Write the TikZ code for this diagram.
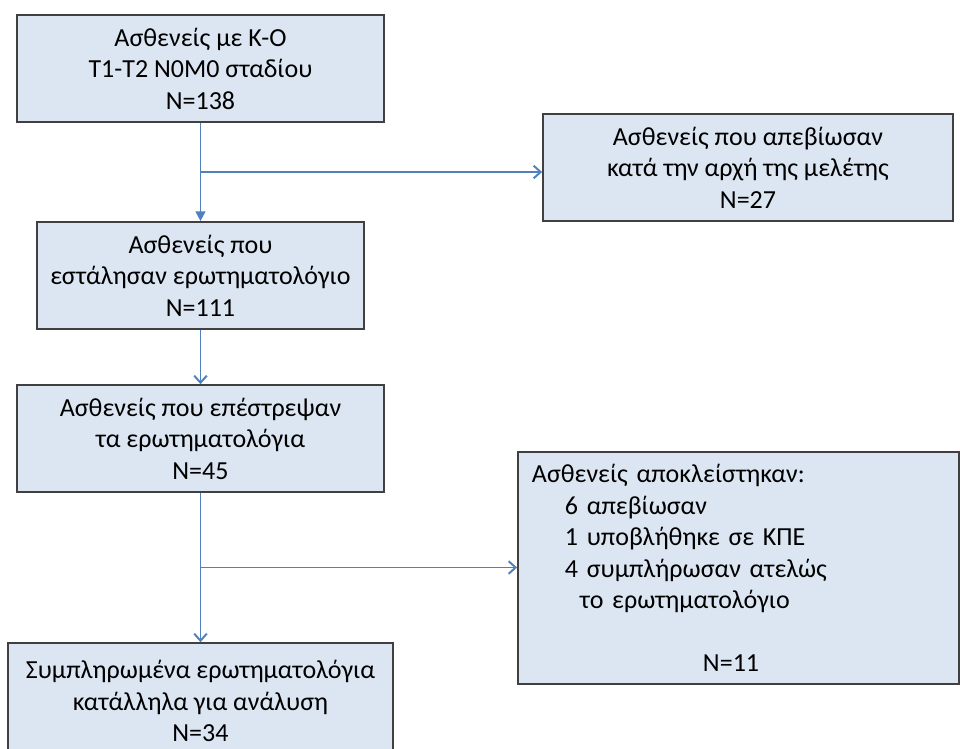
\documentclass[tikz,border=0pt]{standalone}
\usepackage{fontspec}
\setmainfont{Carlito}
\usetikzlibrary{arrows.meta,calc}
\definecolor{boxfill}{RGB}{220,230,242}
\definecolor{boxline}{RGB}{64,64,64}
\definecolor{flowline}{RGB}{79,129,189}

\begin{document}
\begin{tikzpicture}[
    x=0.025cm, y=-0.025cm,
    % Simple box style
    box/.style={draw=boxline, fill=boxfill, line width=1.2pt, inner sep=0pt, align=center,
      font=\fontsize{18.5}{22.4}\selectfont},
    % Arrow styles
    arrow/.style={draw=flowline, line width=1.4pt, -{Straight Barb[length=5pt,width=9pt]}},
    arrowfill/.style={draw=flowline, line width=1.4pt, -{Triangle[length=7pt,width=7pt]}}
  ]
  \useasboundingbox (0,0) rectangle (960,749);

  % Left column - main flow
  \node[box, minimum width=9.175cm, minimum height=2.675cm] (total) at (200.5,68.5)
    {Ασθενείς με Κ-Ο\\ T1-T2 N0M0 σταδίου\\ N=138};
  \node[box, minimum width=8.175cm, minimum height=2.675cm] (sent) at (200.5,275.5)
    {Ασθενείς που\\ εστάλησαν ερωτηματολόγιο\\ N=111};
  \node[box, minimum width=9.175cm, minimum height=2.675cm] (returned) at (200.5,438.5)
    {Ασθενείς που επέστρεψαν\\ τα ερωτηματολόγια\\ N=45};
  \node[box, minimum width=9.625cm, minimum height=2.9cm] (analysed) at (200.5,701)
    {Συμπληρωμένα ερωτηματολόγια\\ κατάλληλα για ανάλυση\\ N=34};

  % Right column - losses
  \node[box, minimum width=10.25cm, minimum height=2.675cm] (died) at (748,167.5)
    {Ασθενείς που απεβίωσαν\\ κατά την αρχή της μελέτης\\ N=27};
  \node[box, align=left, text width=10.325cm, inner xsep=0.35cm, minimum height=5.8cm] (excluded) at (738.5,568)
    {Ασθενείς αποκλείστηκαν:\\
     \hspace*{0.825cm}6 απεβίωσαν\\
     \hspace*{0.825cm}1 υποβλήθηκε σε ΚΠΕ\\
     \hspace*{0.825cm}4 συμπλήρωσαν ατελώς\\
     \hspace*{1.2cm}το ερωτηματολόγιο\\[22.4pt]
     \hspace*{4.275cm}N=11};

  % Branch points
  \coordinate (j1) at ($(total.south)!0.5!(sent.north)$);
  \coordinate (j2) at ($(returned.south)!0.5!(analysed.north)$);

  % Connections
  \draw[arrowfill] (total) -- (sent);
  \draw[arrow] (j1) -- (j1 -| died.west);
  \draw[arrow] (sent) -- (returned);
  \draw[arrow] (returned) -- (analysed);
  \draw[arrow] (j2) -- (j2 -| excluded.west);

\end{tikzpicture}
\end{document}
